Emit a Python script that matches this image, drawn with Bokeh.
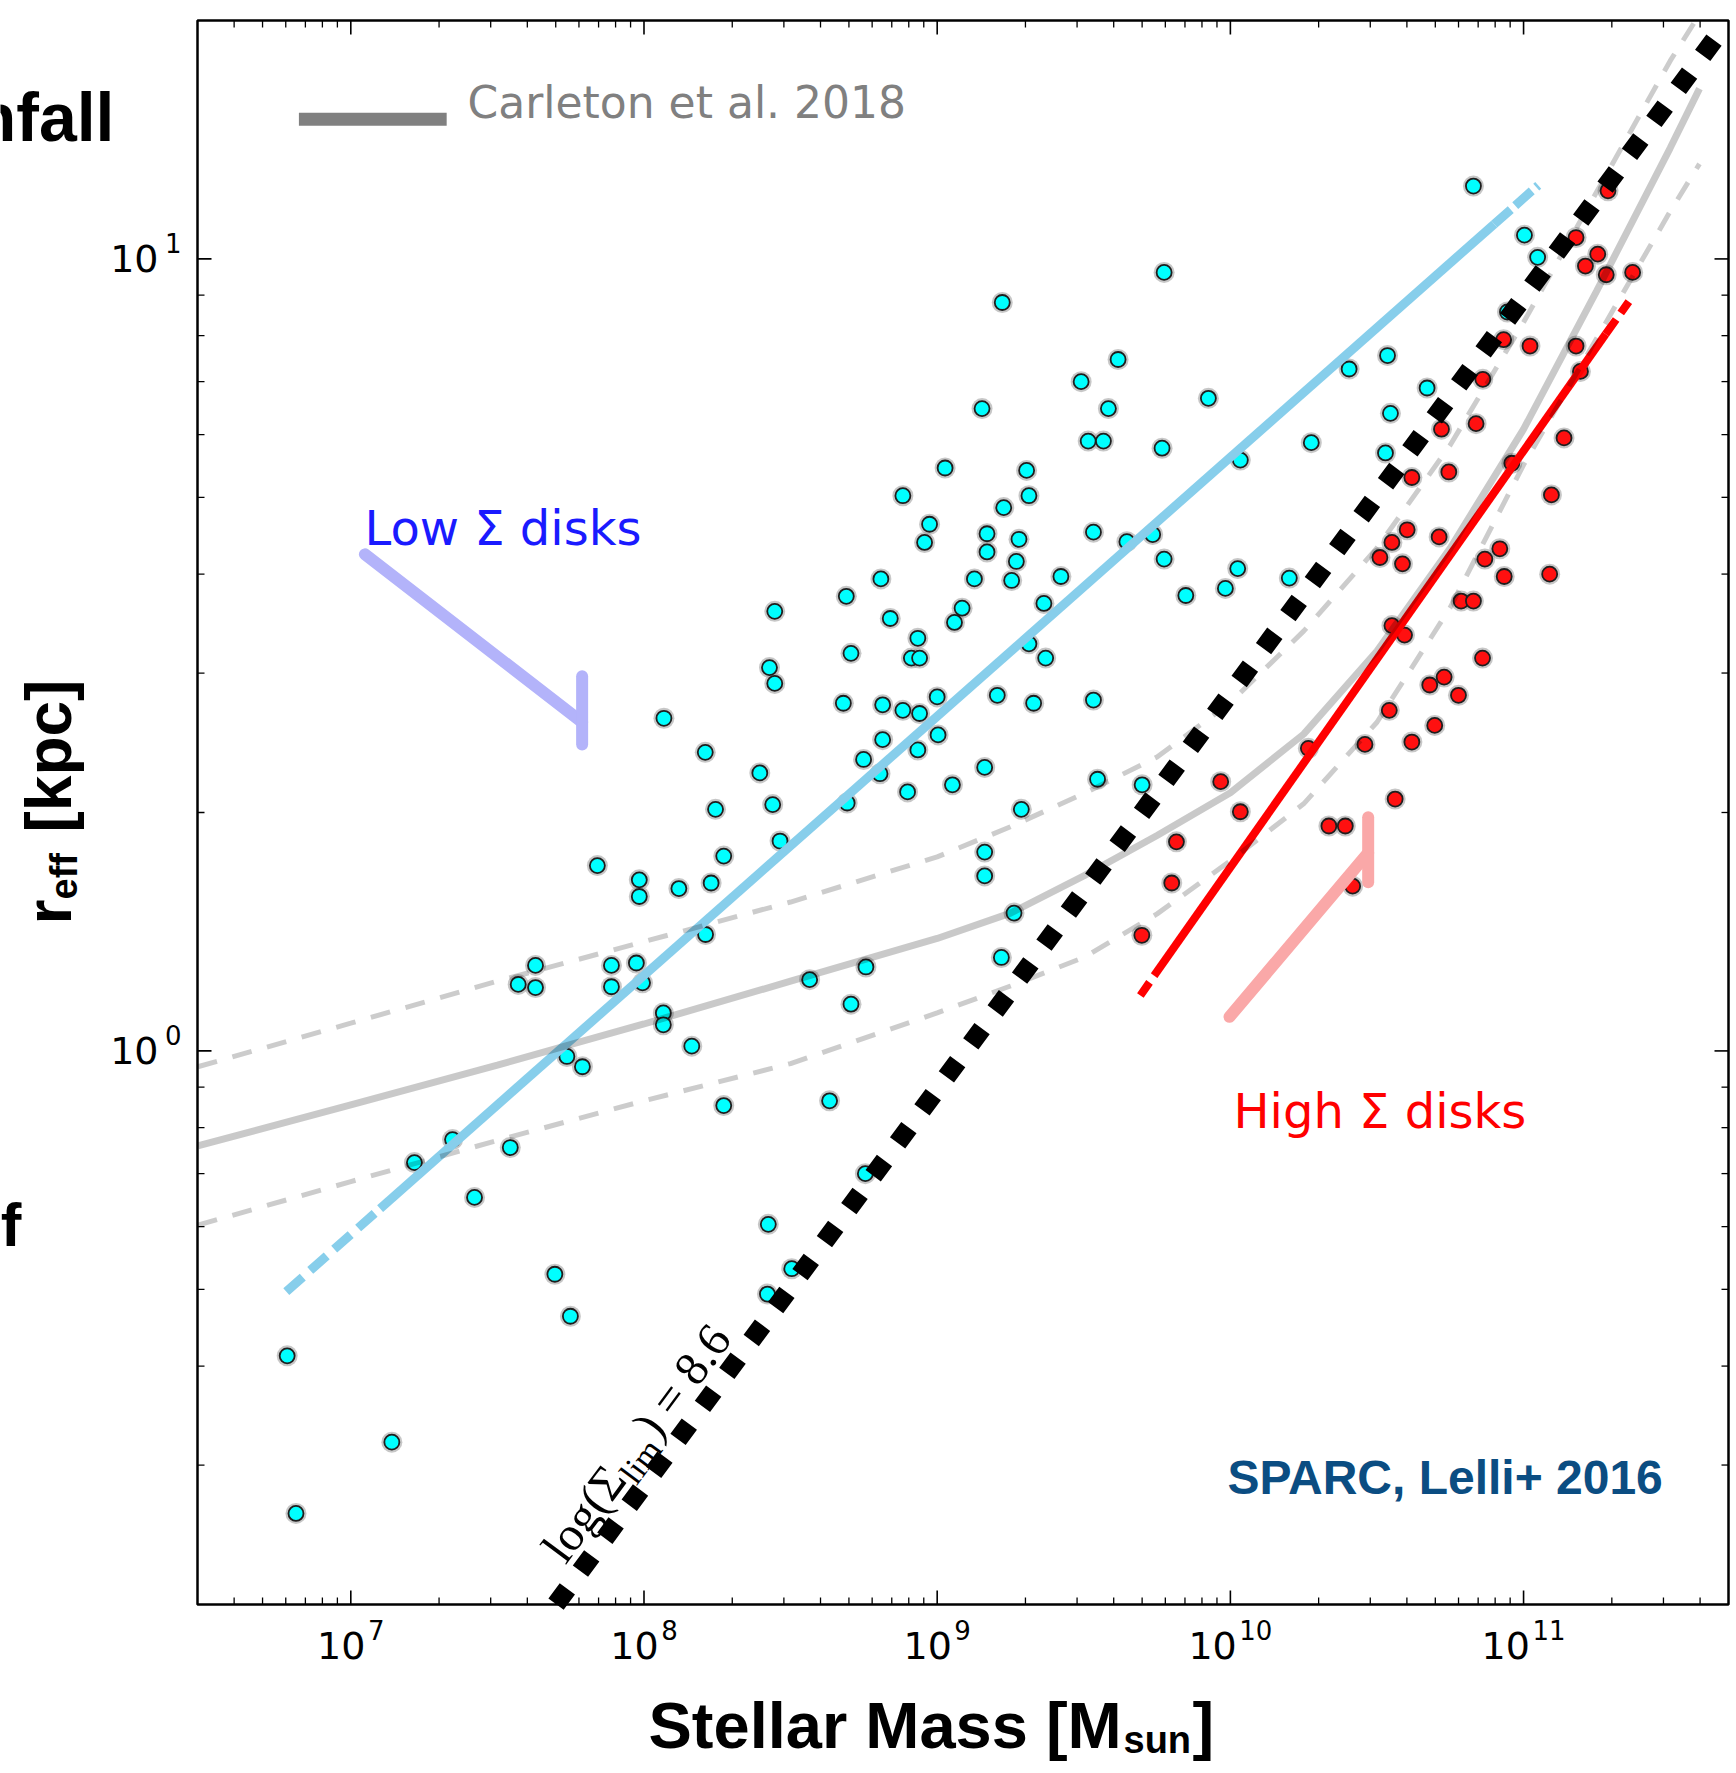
import math
from bokeh.plotting import figure
from bokeh.models import Label, Range1d
from bokeh.core.properties import value
from bokeh.embed import file_html
from bokeh.resources import INLINE

# ---------------- data (log10 of stellar mass [Msun] and r_eff [kpc]) ----------------
low_logm = [9.222, 9.617, 9.491, 9.153, 9.584, 9.515, 9.567, 9.027, 9.305, 8.883,
            9.313, 9.227, 8.974, 8.957, 9.170, 9.170, 9.279, 9.270, 9.533, 9.647,
            8.808, 8.690, 9.127, 9.254, 9.422, 8.446, 8.840, 9.085, 9.059, 9.364,
            8.934, 8.706, 8.912, 8.940, 9.313, 9.370, 8.428, 8.446, 8.068, 8.680,
            8.814, 8.883, 8.940, 9.000, 9.205, 9.329, 9.533, 8.209, 8.814, 9.003,
            8.934, 8.749, 8.805, 8.395, 9.162, 9.052, 8.899, 9.547, 9.699, 8.244,
            8.439, 8.693, 9.287,
            10.829, 9.774, 11.003, 11.048, 10.945, 9.925, 10.405, 10.536, 10.671, 10.546,
            9.767, 10.276, 10.034, 10.529, 9.735, 9.774, 10.025, 9.983, 9.848, 10.201,
            7.841, 7.984, 7.984, 8.119, 8.229, 8.272, 8.464, 8.210, 7.630, 7.571,
            7.630, 7.889, 7.889, 7.974, 7.995, 8.066, 8.066, 8.163, 7.737, 7.790,
            8.272, 7.347, 7.217, 7.544, 7.422, 8.424, 8.504, 8.421, 7.696, 7.749,
            6.783, 7.140, 6.813,
            9.162, 9.162, 9.262, 9.219, 8.757, 8.565, 8.706, 8.633, 8.755]
low_logr = [0.945, 0.873, 0.845, 0.811, 0.811, 0.770, 0.770, 0.736, 0.733, 0.701,
            0.701, 0.686, 0.665, 0.642, 0.653, 0.630, 0.646, 0.618, 0.655, 0.643,
            0.596, 0.574, 0.596, 0.594, 0.599, 0.555, 0.546, 0.559, 0.541, 0.565,
            0.521, 0.502, 0.496, 0.496, 0.514, 0.496, 0.484, 0.464, 0.420, 0.439,
            0.437, 0.430, 0.426, 0.447, 0.449, 0.439, 0.443, 0.377, 0.393, 0.399,
            0.380, 0.368, 0.350, 0.351, 0.358, 0.336, 0.327, 0.343, 0.336, 0.305,
            0.311, 0.313, 0.305,
            1.092, 0.983, 1.030, 1.002, 0.933, 0.824, 0.861, 0.878, 0.837, 0.805,
            0.761, 0.768, 0.746, 0.755, 0.652, 0.621, 0.609, 0.584, 0.575, 0.597,
            0.234, 0.216, 0.195, 0.205, 0.212, 0.246, 0.265, 0.147, 0.108, 0.084,
            0.080, 0.108, 0.081, 0.111, 0.086, 0.048, 0.033, 0.006, -0.007, -0.020,
            -0.069, -0.112, -0.141, -0.122, -0.185, -0.219, -0.275, -0.307, -0.282, -0.335,
            -0.385, -0.494, -0.584,
            0.251, 0.221, 0.174, 0.118, 0.106, 0.090, 0.059, -0.063, -0.155]

high_logm = [11.288, 11.179, 11.253, 11.211, 11.282, 11.372, 10.932, 11.022, 11.179, 10.861,
             11.194, 10.838, 10.720, 11.138, 10.619, 10.745, 10.960, 11.095, 10.603, 10.551,
             10.510, 10.587, 10.712, 10.919, 10.868, 10.934, 11.089, 10.787, 10.829, 10.551,
             10.594, 10.860, 10.680, 10.729, 10.778, 10.542, 10.697, 10.459, 10.619, 10.266,
             9.967, 10.034, 10.562, 9.816, 10.336, 10.392, 9.800, 10.417, 9.698]
high_logr = [1.086, 1.027, 1.006, 0.991, 0.980, 0.983, 0.898, 0.890, 0.890, 0.848,
             0.858, 0.792, 0.785, 0.774, 0.724, 0.731, 0.742, 0.702, 0.658, 0.642,
             0.623, 0.615, 0.649, 0.634, 0.621, 0.599, 0.602, 0.568, 0.568, 0.537,
             0.525, 0.496, 0.462, 0.472, 0.449, 0.430, 0.411, 0.387, 0.390, 0.382,
             0.340, 0.302, 0.318, 0.264, 0.284, 0.284, 0.212, 0.208, 0.146]

# Carleton et al. 2018 relation (median and scatter)
carleton_logm = [6.478, 7.0, 7.5, 8.0, 8.5, 9.0, 9.25, 9.5, 9.75, 10.0, 10.25, 10.5, 10.75, 11.0, 11.25, 11.5, 11.6]
carleton_logr = [-0.12, -0.068, -0.018, 0.034, 0.088, 0.142, 0.174, 0.221, 0.272, 0.326, 0.400, 0.505, 0.635, 0.785, 0.960, 1.140, 1.215]
carleton_upper_logm = [6.478, 7.0, 7.5, 8.0, 8.5, 9.0, 9.25, 9.5, 9.75, 10.0, 10.25, 10.5, 10.75, 11.0, 11.25, 11.5, 11.585]
carleton_upper_logr = [-0.02, 0.035, 0.088, 0.138, 0.188, 0.245, 0.283, 0.325, 0.371, 0.440, 0.530, 0.635, 0.765, 0.920, 1.085, 1.250, 1.30]
carleton_lower_logr = [-0.22, -0.165, -0.113, -0.063, -0.016, 0.048, 0.082, 0.118, 0.173, 0.240, 0.312, 0.415, 0.56, 0.74, 0.90, 1.06, 1.12]

# fits (ends dashed, middle solid)
low_fit_logm = [6.78, 7.10, 10.90, 11.05]
low_fit_logr = [-0.304, -0.199, 1.044, 1.093]
high_fit_logm = [9.693, 9.74, 11.28, 11.359]
high_fit_logr = [0.070, 0.095, 0.905, 0.946]

# log(Sigma_lim) = 8.6 line
sigma_lim_logm = [7.70, 11.69]
sigma_lim_logr = [-0.6985, 1.2965]

# annotation arrows
arrow_low_logm = [7.048, 7.789]
arrow_low_logr = [0.627, 0.415]
arrow_low_bar_logr = [0.473, 0.387]
arrow_high_logm = [9.997, 10.470]
arrow_high_logr = [0.043, 0.250]
arrow_high_bar_logr = [0.295, 0.213]

legend_key_logm = [6.823, 7.327]
legend_key_logr = 1.1765

x_major = [1e7, 1e8, 1e9, 1e10, 1e11]
y_major = [1.0, 10.0]
x_limits = (3e6, 5e11)
y_limits = (0.2, 20.0)


def p10(a):
    return [10 ** v for v in a]


# ---------------- figure: plot box placed inside a full-canvas frame ----------------
W, H = 1734, 1770
BOX_L, BOX_T, BOX_W, BOX_H = 197, 20, 1531, 1584
lx0, lx1 = math.log10(x_limits[0]), math.log10(x_limits[1])
ly0, ly1 = math.log10(y_limits[0]), math.log10(y_limits[1])
kx = (lx1 - lx0) / BOX_W
ky = (ly1 - ly0) / BOX_H
x_full = (10 ** (lx0 - BOX_L * kx), 10 ** (lx0 + (W - BOX_L) * kx))
y_full = (10 ** (ly0 - (H - BOX_T - BOX_H) * ky), 10 ** (ly1 + BOX_T * ky))

p = figure(width=W, height=H, x_axis_type="log", y_axis_type="log",
           x_axis_location=None, y_axis_location=None,
           x_range=Range1d(*x_full), y_range=Range1d(*y_full),
           output_backend="svg", toolbar_location=None,
           min_border_left=0, min_border_right=0, min_border_top=0, min_border_bottom=0)
p.grid.visible = False
p.outline_line_color = None
p.background_fill_color = "white"
p.border_fill_color = "white"

# ---------------- points ----------------
for xs, ys, col in ((low_logm, low_logr, "#00ffff"), (high_logm, high_logr, "#ff1010")):
    p.scatter(p10(xs), p10(ys), size=21, fill_color="#999999", fill_alpha=0.55, line_color=None)
    p.scatter(p10(xs), p10(ys), size=15, fill_color=col, line_color="#1e1e1e", line_width=1.8)

# ---------------- fit lines ----------------
p.line(p10(low_fit_logm[1:3]), p10(low_fit_logr[1:3]), line_color="#87ceeb", line_width=9)
p.line(p10(low_fit_logm[0:2]), p10(low_fit_logr[0:2]), line_color="#87ceeb", line_width=9, line_dash="22 10")
p.line(p10(low_fit_logm[2:4]), p10(low_fit_logr[2:4]), line_color="#87ceeb", line_width=9, line_dash="22 6")

p.line(p10(high_fit_logm[1:3]), p10(high_fit_logr[1:3]), line_color="#ff0000", line_width=8)
p.line(p10(high_fit_logm[0:2]), p10(high_fit_logr[0:2]), line_color="#ff0000", line_width=8, line_dash="16 8")
p.line(p10(high_fit_logm[2:4]), p10(high_fit_logr[2:4]), line_color="#ff0000", line_width=8, line_dash="18 8")

# surface density limit (diamond dashes)
p.line(p10(sigma_lim_logm), p10(sigma_lim_logr), line_color="black", line_width=19,
       line_dash="19 22", line_cap="butt")

# Carleton relation
p.line(p10(carleton_logm), p10(carleton_logr), line_color="black", line_alpha=0.21, line_width=7)
p.line(p10(carleton_upper_logm), p10(carleton_upper_logr), line_color="black", line_alpha=0.2, line_width=5,
       line_dash="20 16")
p.line(p10(carleton_logm), p10(carleton_lower_logr), line_color="black", line_alpha=0.2, line_width=5,
       line_dash="20 16")

# arrows
p.line(p10(arrow_low_logm), p10(arrow_low_logr), line_color="#b3b3fa", line_width=12, line_cap="round")
p.line(p10([arrow_low_logm[1]] * 2), p10(arrow_low_bar_logr), line_color="#b3b3fa", line_width=12, line_cap="round")
p.line(p10(arrow_high_logm), p10(arrow_high_logr), line_color="#faa8a8", line_width=12, line_cap="round")
p.line(p10([arrow_high_logm[1]] * 2), p10(arrow_high_bar_logr), line_color="#faa8a8", line_width=12, line_cap="round")

# legend key
p.line(p10(legend_key_logm), [10 ** legend_key_logr] * 2, line_color="#808080", line_width=13, line_cap="butt")

# ---------------- plot box, ticks and tick labels ----------------
p.quad(left=[x_limits[0]], right=[x_limits[1]], bottom=[y_limits[0]], top=[y_limits[1]],
       fill_color=None, line_color="black", line_width=2.5)

x_minor = [m * 10 ** e for e in range(6, 12) for m in range(2, 10) if x_limits[0] < m * 10 ** e < x_limits[1]]
y_minor = [m * 10.0 ** e for e in (-1, 0, 1) for m in range(2, 10) if y_limits[0] < m * 10.0 ** e < y_limits[1]]

for ticks, length, lw in ((x_major, 14, 1.6), (x_minor, 7, 1.3)):
    p.ray(x=ticks, y=[y_limits[0]] * len(ticks), length=length, length_units="screen",
          angle=math.pi / 2, line_color="black", line_width=lw)
    p.ray(x=ticks, y=[y_limits[1]] * len(ticks), length=length, length_units="screen",
          angle=-math.pi / 2, line_color="black", line_width=lw)
for ticks, length, lw in ((y_major, 14, 1.6), (y_minor, 7, 1.3)):
    p.ray(x=[x_limits[0]] * len(ticks), y=ticks, length=length, length_units="screen",
          angle=0.0, line_color="black", line_width=lw)
    p.ray(x=[x_limits[1]] * len(ticks), y=ticks, length=length, length_units="screen",
          angle=math.pi, line_color="black", line_width=lw)

TF, EF = 38, 26          # tick label font sizes (base, exponent)
MID = 0.346              # baseline -> text-box centre, in em

x_exp = [str(int(round(math.log10(t)))) for t in x_major]
base_w = 2 * 0.636 * TF
x_base_off, x_exp_off = [], []
for e in x_exp:
    total = base_w + 2.5 + len(e) * 0.636 * EF
    x_base_off.append(-total / 2 + base_w)
    x_exp_off.append(-total / 2 + base_w + 2.5)
p.text(x=x_major, y=[y_limits[0]] * len(x_major), text=["10"] * len(x_major),
       x_offset=x_base_off, y_offset=[54 - MID * TF] * len(x_major),
       text_align=value("right"), text_baseline=value("middle"),
       text_font=value("DejaVu Sans"), text_font_size=value(f"{TF}px"), text_color="black")
p.text(x=x_major, y=[y_limits[0]] * len(x_major), text=x_exp,
       x_offset=x_exp_off, y_offset=[34 - MID * EF] * len(x_major),
       text_align=value("left"), text_baseline=value("middle"),
       text_font=value("DejaVu Sans"), text_font_size=value(f"{EF}px"), text_color="black")

y_exp = [str(int(round(math.log10(t)))) for t in y_major]
p.text(x=[x_limits[0]] * len(y_major), y=y_major, text=["10"] * len(y_major),
       x_offset=[-39] * len(y_major), y_offset=[13 - MID * TF] * len(y_major),
       text_align=value("right"), text_baseline=value("middle"),
       text_font=value("DejaVu Sans"), text_font_size=value(f"{TF}px"), text_color="black")
p.text(x=[x_limits[0]] * len(y_major), y=y_major, text=y_exp,
       x_offset=[-16] * len(y_major), y_offset=[-7 - MID * EF] * len(y_major),
       text_align=value("right"), text_baseline=value("middle"),
       text_font=value("DejaVu Sans"), text_font_size=value(f"{EF}px"), text_color="black")


# ---------------- texts (page-pixel positions of baselines) ----------------
def lab(text, X, Y, size, color="black", font="DejaVu Sans", style="normal", align="left", angle=0.0):
    # (X, Y): start of the baseline on the page; converted to the text-box centre line
    ux, uy = -math.sin(angle), -math.cos(angle)   # glyph "up" direction on the page
    cx, cy = X + MID * size * ux, Y + MID * size * uy
    p.add_layout(Label(x=cx, y=H - cy, x_units="screen", y_units="screen", text=text,
                       text_font=font, text_font_size=f"{size}px", text_font_style=style,
                       text_color=color, text_align=align, text_baseline="middle",
                       angle=angle, angle_units="rad"))


lab("Carleton et al. 2018", 467, 117, 44, color="#808080")
lab("Low \u03a3 disks", 364, 544, 48, color="#1a1aff")
lab("High \u03a3 disks", 1233, 1127, 48, color="#ff0000")
lab("SPARC, Lelli+ 2016", 1227, 1494, 48, color="#0b4d82", font="Liberation Sans", style="bold")
lab("nfall", 114, 140, 68, font="Liberation Sans", style="bold", align="right")
lab("f", 21, 1245, 62, font="Liberation Sans", style="bold", align="right")

# x axis label
lab("Stellar Mass [M", 648, 1747, 65, font="Liberation Sans", style="bold")
lab("sun", 1123, 1753, 38, font="Liberation Sans", style="bold")
lab("]", 1192, 1747, 65, font="Liberation Sans", style="bold")

# y axis label (rotated)
rot = math.pi / 2
lab("r", 71, 924, 64, font="Liberation Sans", style="bold", angle=rot)
lab("eff", 77, 899, 38, font="Liberation Sans", style="bold", angle=rot)
lab("[kpc]", 71, 832, 64, font="Liberation Sans", style="bold", angle=rot)

# log(Sigma_lim)=8.6 along the limit line
theta = math.radians(53.4)
dx, dy = math.cos(theta), -math.sin(theta)      # along text, page pixels (y down)
nx, ny = math.sin(theta), math.cos(theta)       # toward the baseline side
X0, Y0 = 565, 1565
lab("log(\u03a3", X0, Y0, 48, font="Liberation Serif", angle=theta)
a1, drop = 106, 10
lab("lim", X0 + a1 * dx + drop * nx, Y0 + a1 * dy + drop * ny, 34, font="Liberation Serif", angle=theta)
a2 = 154
lab(") = 8.6", X0 + a2 * dx, Y0 + a2 * dy, 48, font="Liberation Serif", angle=theta)

open("out.html", "w").write(file_html(p, INLINE))
